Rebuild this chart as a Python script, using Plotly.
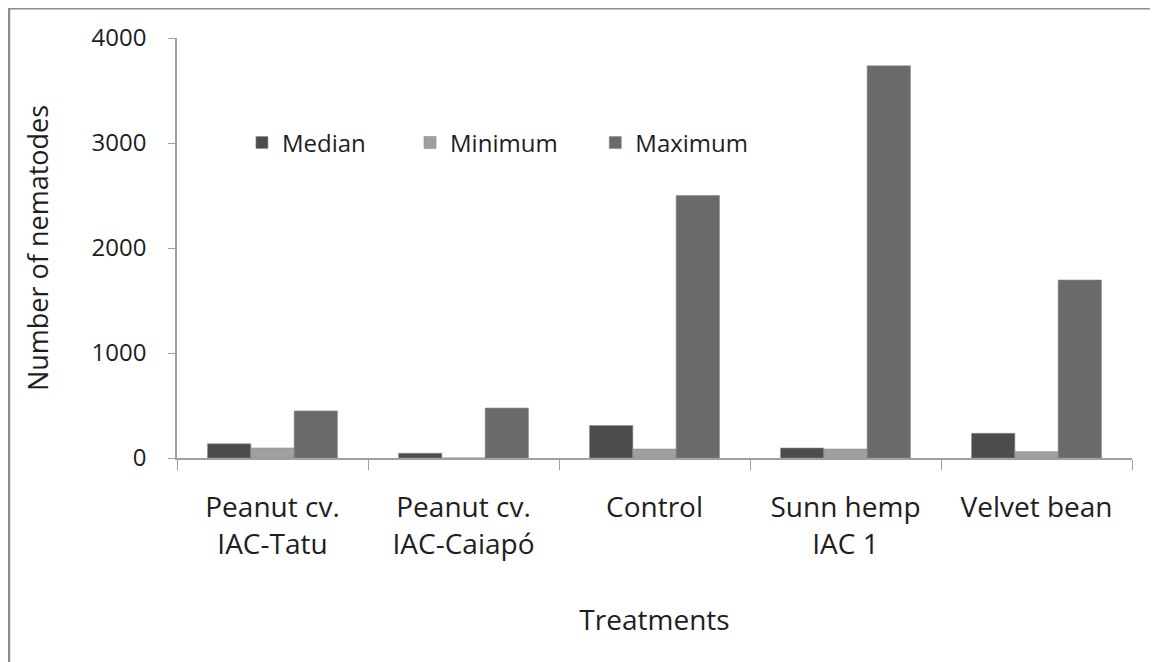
import plotly.graph_objects as go

categories = ["Peanut cv.<br>IAC-Tatu", "Peanut cv.<br>IAC-Caiapó", "Control", "Sunn hemp<br>IAC 1", "Velvet bean"]
median = [135, 45, 310, 95, 235]
minimum = [95, 0, 85, 85, 60]
maximum = [448, 476, 2500, 3735, 1695]
series_names = ["Median", "Minimum", "Maximum"]
series_colors = ["#4c4c4c", "#a0a0a0", "#6a6a6a"]
legend_ids = ["legend", "legend2", "legend3"]
legend_x = [0.068, 0.244, 0.438]

FONT = "Open Sans"
TXT = "#1e1e1e"

fig = go.Figure()
for name, vals, col, lid in zip(series_names, [median, minimum, maximum], series_colors, legend_ids):
    fig.add_trace(go.Bar(
        x=categories, y=vals, name=name, legend=lid, showlegend=True,
        marker=dict(color=col, line=dict(color="#8a8a8a", width=0.6)),
    ))

legend_common = dict(
    orientation="h", y=0.75, xanchor="left", yanchor="middle",
    font=dict(family=FONT, size=24, color=TXT),
    bgcolor="rgba(0,0,0,0)",
)

# page has an 8px body margin; figure sized so the plot area lands where the reference has it
fig.update_layout(
    width=1150, height=654,
    margin=dict(l=169, r=26, t=30, b=204),
    paper_bgcolor="white", plot_bgcolor="white",
    showlegend=True,
    barmode="group", bargap=0.32, bargroupgap=0,
    font=dict(family=FONT, size=20, color=TXT),
    legend=dict(x=legend_x[0], **legend_common),
    legend2=dict(x=legend_x[1], **legend_common),
    legend3=dict(x=legend_x[2], **legend_common),
    xaxis=dict(
        showline=True, linecolor="#a0a0a0", linewidth=1.5,
        ticks="outside", tickson="boundaries", ticklen=10, tickcolor="#a0a0a0",
        tickfont=dict(family=FONT, size=28, color=TXT),
        ticklabelstandoff=24,
        title=dict(text="Treatments", font=dict(family=FONT, size=28, color=TXT), standoff=50),
    ),
    yaxis=dict(
        range=[0, 4000], tickvals=[0, 1000, 2000, 3000, 4000],
        showline=True, linecolor="#a0a0a0", linewidth=1.5,
        ticks="outside", ticklen=7, tickcolor="#a0a0a0",
        showgrid=False, zeroline=False,
        tickfont=dict(family=FONT, size=24, color=TXT),
        ticklabelstandoff=17,
        title=dict(text="Number of nematodes", font=dict(family=FONT, size=27, color=TXT), standoff=35),
    ),
    shapes=[
        dict(type="line", xref="paper", yref="paper", x0=-0.18, x1=1.03, y0=1.0714, y1=1.0714,
             line=dict(color="#8c8c8c", width=3)),
        dict(type="line", xref="paper", yref="paper", x0=-0.1759, x1=-0.1759, y0=1.0714, y1=-0.49,
             line=dict(color="#8c8c8c", width=2.5)),
    ],
)

fig.write_html("out.html")
